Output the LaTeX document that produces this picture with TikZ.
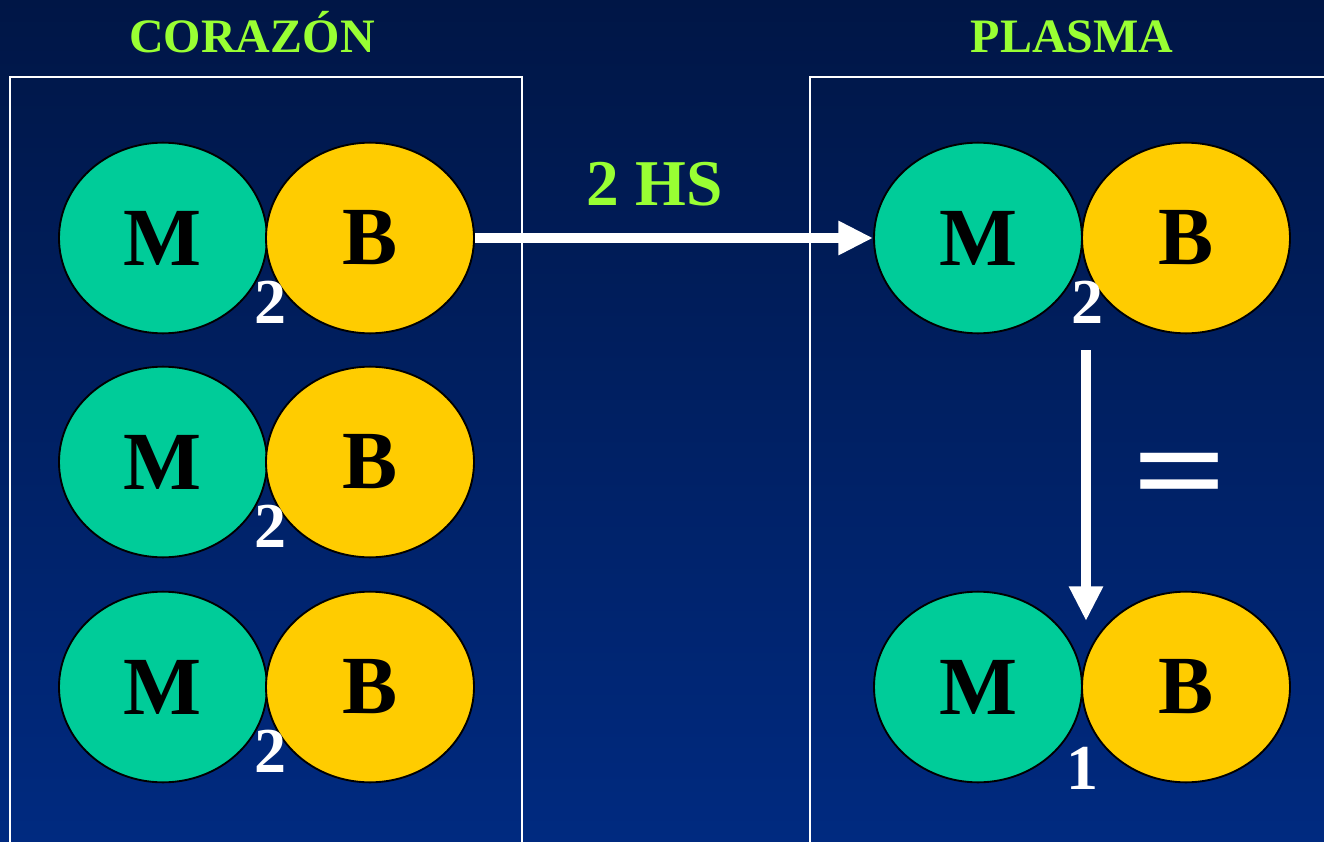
\documentclass[tikz,border=0pt]{standalone}
\usepackage{fontspec}
\setmainfont{Liberation Serif}[BoldFont={Liberation Serif Bold}]
\usetikzlibrary{shapes.geometric,positioning,arrows.meta}

\definecolor{mcolor}{RGB}{0,204,153}
\definecolor{bcolor}{RGB}{255,204,0}
\definecolor{titlegreen}{RGB}{153,255,51}
\definecolor{bgtop}{RGB}{0,22,70}
\definecolor{bgbottom}{RGB}{0,42,128}

\tikzset{
  mol/.style={ellipse,draw=black,line width=1.4pt,minimum width=156pt,minimum height=143pt,inner sep=0pt,
    font=\bfseries\fontsize{62}{62}\selectfont},
  molM/.style={mol,fill=mcolor},
  molB/.style={mol,fill=bcolor},
  idx/.style={text=white,inner sep=0pt,anchor=base,font=\bfseries\fontsize{48}{48}\selectfont},
  title/.style={text=titlegreen,inner sep=0pt,anchor=base,font=\bfseries\fontsize{36}{36}\selectfont},
  panel/.style={draw=white,line width=1.5pt},
  flow/.style={draw=white,-{Triangle[length=26pt,width=24pt]}}
}

\begin{document}
\begin{tikzpicture}[x=0.75pt,y=-0.75pt]
\fill[top color=bgtop,bottom color=bgbottom] (0,0) rectangle (1324,842);
\useasboundingbox (0,0) rectangle (1324,842);

% panels
\draw[panel] (10,860) |- (522,77) -- (522,860);
\draw[panel] (810,860) |- (1340,77);
\node[title] (corazon) at (252,53) {CORAZÓN};
\node[title] (plasma) at (1072,53) {PLASMA};

% heart: three M-B pairs
\foreach \r/\y in {1/238,2/462,3/687}{
  \node[molM] (heartM\r) at (163,\y) {M};
  \node[molB] (heartB\r) at (370,\y) {B};
  \node[idx] (heartI\r) at (270,\y+85) {2};
}

% plasma pairs
\node[molM] (plasmaM1) at (978,238) {M};
\node[molB] (plasmaB1) at (1186,238) {B};
\node[idx] (plasmaI1) at (1087,323) {2};
\node[molM] (plasmaM2) at (978,687) {M};
\node[molB] (plasmaB2) at (1186,687) {B};
\node[idx] (plasmaI2) at (1082,789) {1};

\draw[flow,line width=7pt] (heartB1.east) -- (plasmaM1.west);
\node[title,font=\bfseries\fontsize{49}{49}\selectfont] (hs) at (655,205) {2 HS};

\coordinate (split) at (1086,350);
\coordinate (merge) at (1086,621);
\draw[flow,line width=8pt] (split) -- (merge);
\node[text=white,inner sep=0pt,yscale=0.8,font=\bfseries\fontsize{125}{125}\selectfont] (eq) at (1180,484) {=};
\end{tikzpicture}
\end{document}
